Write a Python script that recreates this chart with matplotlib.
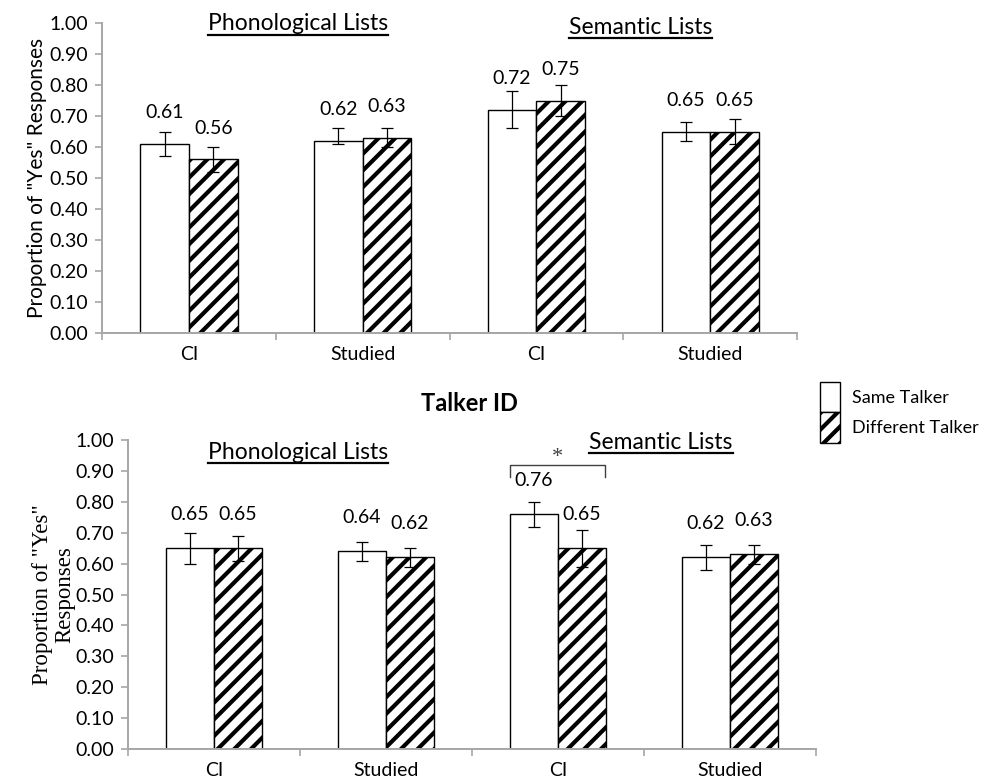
import matplotlib.pyplot as plt
from matplotlib.patches import Patch
from matplotlib.lines import Line2D
import numpy as np

plt.rcParams['font.family'] = ['Lato', 'DejaVu Sans']
plt.rcParams['hatch.linewidth'] = 3.0

categories = ['CI', 'Studied', 'CI', 'Studied']
series = ['Same Talker', 'Different Talker']

# top panel
top_same = [0.61, 0.62, 0.72, 0.65]
top_diff = [0.56, 0.63, 0.75, 0.65]
top_same_lo = [0.57, 0.61, 0.66, 0.62]
top_same_hi = [0.65, 0.66, 0.78, 0.68]
top_diff_lo = [0.52, 0.60, 0.70, 0.61]
top_diff_hi = [0.60, 0.66, 0.80, 0.69]

# bottom panel (Talker ID)
bot_same = [0.65, 0.64, 0.76, 0.62]
bot_diff = [0.65, 0.62, 0.65, 0.63]
bot_same_lo = [0.60, 0.61, 0.72, 0.58]
bot_same_hi = [0.70, 0.67, 0.80, 0.66]
bot_diff_lo = [0.61, 0.59, 0.59, 0.60]
bot_diff_hi = [0.69, 0.65, 0.71, 0.66]

fig = plt.figure(figsize=(9.85, 7.83), dpi=100)
ax1 = fig.add_axes([0.1036, 0.5747, 0.7056, 0.3959])
ax2 = fig.add_axes([0.1299, 0.0434, 0.6985, 0.3946])

bw = 0.28
grey = '#a6a6a6'
fs = 14


def draw_panel(ax, same, diff, s_lo, s_hi, d_lo, d_hi, lab_off):
    x = np.arange(len(categories)) + 0.5
    xs = x - bw / 2
    xd = x + bw / 2
    ax.bar(xs, same, bw, color='white', edgecolor='black', linewidth=1.0, zorder=2)
    ax.bar(xd, diff, bw, color='white', edgecolor='black', linewidth=1.0,
           hatch='//', zorder=2)
    same = np.array(same)
    diff = np.array(diff)
    ax.errorbar(xs, same, yerr=[same - np.array(s_lo), np.array(s_hi) - same],
                fmt='none', ecolor='black', elinewidth=0.9, capsize=4.3,
                capthick=0.9, zorder=3)
    ax.errorbar(xd, diff, yerr=[diff - np.array(d_lo), np.array(d_hi) - diff],
                fmt='none', ecolor='black', elinewidth=0.9, capsize=4.3,
                capthick=0.9, zorder=3)
    for xi, v in zip(xs, same):
        ax.text(xi, v + lab_off, f'{v:.2f}', ha='center', va='center', fontsize=fs)
    for xi, v in zip(xd, diff):
        ax.text(xi, v + lab_off, f'{v:.2f}', ha='center', va='center', fontsize=fs)

    ax.set_xlim(0, 4)
    ax.set_ylim(0, 1)
    ax.set_yticks(np.arange(0, 1.01, 0.1))
    ax.set_yticklabels([f'{t:.2f}' for t in np.arange(0, 1.01, 0.1)], fontsize=fs)
    ax.set_xticks(np.arange(0, 5))
    ax.set_xticklabels([])
    ax.set_xticks(x, minor=True)
    ax.set_xticklabels(categories, minor=True, fontsize=fs)
    ax.tick_params(axis='x', which='minor', length=0, pad=9)
    ax.tick_params(axis='both', which='major', length=5, color=grey, width=1.2)
    ax.tick_params(axis='y', pad=5)
    for s in ['top', 'right']:
        ax.spines[s].set_visible(False)
    for s in ['left', 'bottom']:
        ax.spines[s].set_color(grey)
        ax.spines[s].set_linewidth(1.4)


draw_panel(ax1, top_same, top_diff, top_same_lo, top_same_hi,
           top_diff_lo, top_diff_hi, 0.10)
draw_panel(ax2, bot_same, bot_diff, bot_same_lo, bot_same_hi,
           bot_diff_lo, bot_diff_hi, 0.11)

ax1.set_ylabel('Proportion of "Yes" Responses', fontsize=15, labelpad=2)
ax2.set_ylabel('Proportion of "Yes"\nResponses', fontsize=16.5,
               family=['Liberation Serif'], labelpad=0, linespacing=1.1)

# list headings (underlined)
headings = [
    (ax1, 1.126, 0.997, 'Phonological Lists'),
    (ax1, 3.10, 0.987, 'Semantic Lists'),
    (ax2, 0.99, 0.961, 'Phonological Lists'),
    (ax2, 3.10, 0.993, 'Semantic Lists'),
]
txts = []
for ax, hx, hy, s in headings:
    t = ax.text(hx, hy, s, ha='center', va='center', fontsize=16.5, clip_on=False)
    txts.append(t)

# significance bracket
ax2.plot([2.5 - 0.276, 2.5 - 0.276, 2.5 + 0.276, 2.5 + 0.276],
         [0.88, 0.92, 0.92, 0.88], color='#404040', lw=1.0, clip_on=False)
ax2.text(2.5, 0.945, '*', ha='center', va='center', fontsize=16,
         family=['Liberation Serif'], color='#404040')

fig.text(0.477, 0.485, 'Talker ID', ha='center', va='center', fontsize=17,
         fontweight='bold')

handles = [Patch(facecolor='white', edgecolor='black', linewidth=1.0),
           Patch(facecolor='white', edgecolor='black', linewidth=1.0, hatch='//')]
fig.legend(handles, series, loc='upper left', bbox_to_anchor=(0.832, 0.512),
           frameon=False, fontsize=13, handlelength=1.15, handleheight=2.2,
           labelspacing=0.0, handletextpad=0.65, borderpad=0, borderaxespad=0)

fig.canvas.draw()
r = fig.canvas.get_renderer()
inv = fig.transFigure.inverted()
for t in txts:
    bb = t.get_window_extent(renderer=r)
    (x0, y0), (x1, _) = inv.transform([[bb.x0, bb.y0], [bb.x1, bb.y0]])
    fig.add_artist(Line2D([x0, x1], [y0 - 0.001, y0 - 0.001], color='black', lw=1.6))

fig.savefig('out.png', dpi=100)
